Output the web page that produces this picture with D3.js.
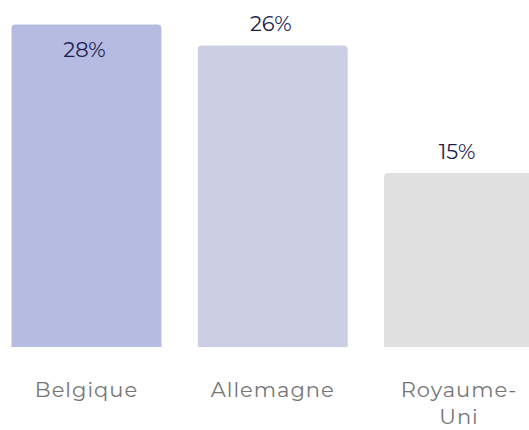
<!DOCTYPE html>
<html>
<head>
<meta charset="utf-8">
<script src="https://cdn.jsdelivr.net/npm/d3@7"></script>
<style>
  body { margin: 0; background: #fff; }
  svg text { font-family: Montserrat, "DejaVu Sans", sans-serif; }
</style>
</head>
<body>
<div id="chart"></div>
<script>
// données
var categories = ["Belgique", "Allemagne", "Royaume-Uni"];
var values = [27.8, 26, 15];
var colors = ["#b6bbe1", "#cccfe3", "#e0e0e0"];

var width = 529, height = 430;
var baseline = 347;

var svg = d3.select("#chart")
    .append("svg")
    .attr("width", width)
    .attr("height", height);

var x = d3.scaleBand()
    .domain(categories)
    .range([11.5, 534])
    .paddingInner(0.195)
    .paddingOuter(0);

var y = d3.scaleLinear()
    .domain([0, 30])
    .range([baseline, baseline - 348]);

var r = 4;
// barre avec coins arrondis en haut seulement
function barPath(d, i) {
  var x0 = x(categories[i]), w = x.bandwidth(), y0 = y(d);
  return "M" + x0 + "," + baseline +
    "V" + (y0 + r) +
    "Q" + x0 + "," + y0 + " " + (x0 + r) + "," + y0 +
    "H" + (x0 + w - r) +
    "Q" + (x0 + w) + "," + y0 + " " + (x0 + w) + "," + (y0 + r) +
    "V" + baseline + "Z";
}

svg.append("g")
  .selectAll("path")
  .data(values)
  .enter().append("path")
    .attr("d", barPath)
    .style("fill", function(d, i) { return colors[i]; });

var fmt = function(v) { return d3.format(".0f")(v) + "%"; };

svg.append("g")
  .selectAll("text")
  .data(values)
  .enter().append("text")
    .attr("x", function(d, i) { return x(categories[i]) + x.bandwidth() / 2 - 2; })
    .attr("y", function(d) {
      var top = y(d);
      return (top - 14 - 14 < 0) ? top + 32 : top - 14;
    })
    .attr("text-anchor", "middle")
    .style("font-size", "21px")
    .style("fill", "#221d4f")
    .text(fmt);

// étiquettes de catégorie
var labels = svg.append("g")
  .selectAll("text")
  .data(categories)
  .enter().append("text")
    .attr("x", function(d) { return x(d) + x.bandwidth() / 2; })
    .attr("y", 397)
    .attr("text-anchor", "middle")
    .style("font-size", "21px")
    .style("letter-spacing", "1px")
    .style("fill", "#757575");

labels.each(function(d) {
  var parts = d.indexOf("-") > 0 ? [d.slice(0, d.indexOf("-") + 1), d.slice(d.indexOf("-") + 1)] : [d];
  var t = d3.select(this);
  parts.forEach(function(p, k) {
    t.append("tspan")
      .attr("x", x(d) + x.bandwidth() / 2)
      .attr("dy", k === 0 ? 0 : 27)
      .text(p);
  });
});
</script>
</body>
</html>
